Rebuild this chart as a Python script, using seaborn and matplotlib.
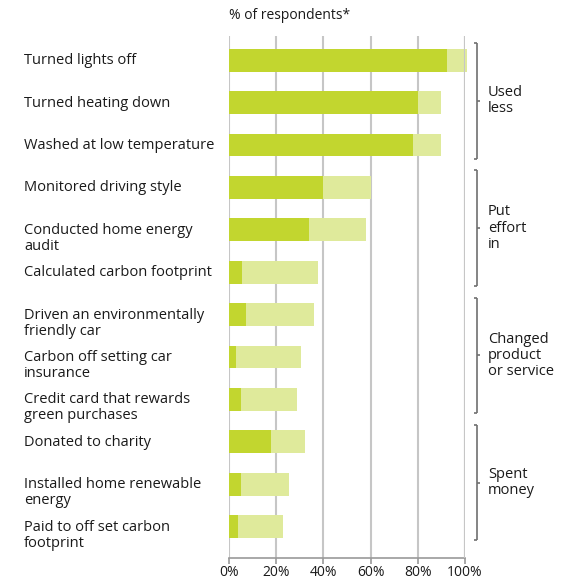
import matplotlib
matplotlib.use("Agg")
import matplotlib.pyplot as plt
import seaborn as sns
import pandas as pd
from matplotlib.transforms import blended_transform_factory

# ---- data -------------------------------------------------------------
actions = [
    "Turned lights off",
    "Turned heating down",
    "Washed at low temperature",
    "Monitored driving style",
    "Conducted home energy\naudit",
    "Calculated carbon footprint",
    "Driven an environmentally\nfriendly car",
    "Carbon off setting car\ninsurance",
    "Credit card that rewards\ngreen purchases",
    "Donated to charity",
    "Installed home renewable\nenergy",
    "Paid to off set carbon\nfootprint",
]
strong_share = [92.5, 80, 78, 40, 34, 5.5, 7, 3, 5, 18, 5, 4]
total_share = [101, 90, 90, 60, 58, 37.5, 36, 30.5, 29, 32, 25.5, 23]

groups = ["Used\nless", "Put\neffort\nin", "Changed\nproduct\nor service", "Spent\nmoney"]
group_sizes = [3, 3, 3, 3]

xticks = [0, 20, 40, 60, 80, 100]
xtick_labels = ["0%", "20%", "40%", "60%", "80%", "100%"]

# ---- style ------------------------------------------------------------
DARK = "#c2d62f"
LIGHT = "#dfea9b"
TEXT = "#1a1a1a"
GRID = "#c6c6c6"
AXIS = "#9a9a9a"
BRACKET = "#707070"

sns.set_theme(style="white")
plt.rcParams["font.family"] = ["Open Sans", "DejaVu Sans"]
plt.rcParams["text.color"] = TEXT

W, H = 573, 580
fig = plt.figure(figsize=(W / 100, H / 100), dpi=100)
ax = fig.add_axes([229 / W, 1 - 558 / H, 236 / W, 522 / H])

df = pd.DataFrame({"action": actions, "strong": strong_share, "total": total_share})
sns.barplot(data=df, x="total", y="action", color=LIGHT, saturation=1,
            width=0.54, ax=ax, zorder=2)
sns.barplot(data=df, x="strong", y="action", color=DARK, saturation=1,
            width=0.54, ax=ax, zorder=3)
for p in ax.patches:
    p.set_clip_on(False)
    p.set_edgecolor("none")

ax.set_xlim(0, 100)
ax.set_ylim(11.74, -0.57)
ax.set_xlabel("")
ax.set_ylabel("")
ax.set_yticks([])
ax.set_xticks(xticks)
ax.set_xticklabels(xtick_labels, fontsize=10, color=TEXT)
ax.tick_params(axis="x", bottom=True, length=4, width=1.2, color=AXIS,
               direction="out", pad=1)

ax.set_axisbelow(True)
ax.grid(axis="x", color=GRID, linewidth=1.5)
ax.grid(axis="y", visible=False)
for side in ("left", "top", "right"):
    ax.spines[side].set_visible(False)
ax.spines["bottom"].set_color(AXIS)
ax.spines["bottom"].set_linewidth(1.2)
# the 100% rule sits over the bars
ax.axvline(xticks[-1], color=GRID, linewidth=1.5, zorder=4)

# ---- row labels, left aligned --------------------------------------
lab_tr = blended_transform_factory(fig.transFigure, ax.transData)
for i, lab in enumerate(actions):
    for k, line in enumerate(lab.split("\n")):
        ax.annotate(line, xy=(24 / W, i), xycoords=lab_tr,
                    xytext=(0, -(4 + 16 * k)), textcoords="offset pixels",
                    ha="left", va="baseline", fontsize=10.5, color=TEXT,
                    annotation_clip=False)

# ---- group brackets ----------------------------------------------------
bx, bl, br, lx = 105.1, 103.8, 106.4, 109.7
start = 0
for name, n in zip(groups, group_sizes):
    y0 = start - 0.40
    y1 = start + n - 1 + 0.32
    ym = (y0 + y1) / 2
    kw = dict(color=BRACKET, linewidth=1.2, clip_on=False, solid_capstyle="butt")
    ax.plot([bx, bx], [y0, y1], **kw)
    ax.plot([bl, bx], [y0, y0], **kw)
    ax.plot([bl, bx], [y1, y1], **kw)
    ax.plot([bx, br], [ym, ym], **kw)
    ax.text(lx, ym, name, ha="left", va="center", fontsize=10.5,
            linespacing=1.1, color=TEXT, clip_on=False)
    start += n

fig.text(229 / W, 1 - 19 / H, "% of respondents*", ha="left", va="baseline",
         fontsize=10, color=TEXT)

fig.savefig("out.png", dpi=100)
